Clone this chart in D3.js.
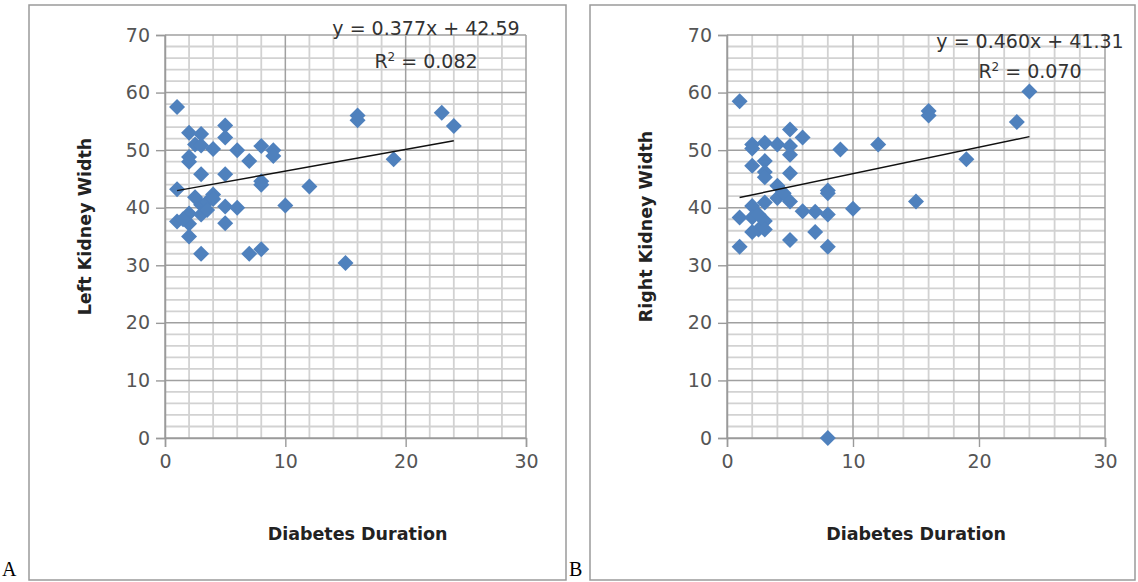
<!DOCTYPE html>
<html>
<head>
<meta charset="utf-8">
<script src="https://cdn.jsdelivr.net/npm/d3@7"></script>
<style>
  html, body { margin: 0; padding: 0; background: #fff; }
  svg { display: block; }
</style>
</head>
<body>
<svg id="chart" width="1138" height="582"></svg>
<script>
// Diabetes duration (years) vs. left kidney width
const durationLeft = [1, 1, 1, 2, 2, 2, 2, 2, 2, 2.5, 3, 3, 3, 3, 3, 3, 3.5, 3.5, 4, 4, 4, 5, 5, 5, 5, 5, 6, 6, 7, 7, 8, 8, 8, 8, 9, 9, 10, 12, 15, 16, 16, 19, 23, 24, 1.5, 2.5];
const widthLeft    = [57.5, 43.2, 37.6, 53, 48.8, 48, 39, 37.2, 35, 51, 52.8, 50.8, 45.8, 40.5, 38.8, 32, 41, 39.6, 50.2, 42.3, 41.5, 54.3, 52.2, 45.8, 40.2, 37.3, 50, 40, 48.1, 32, 50.7, 44.6, 44, 32.8, 50, 49, 40.4, 43.7, 30.4, 56, 55.2, 48.4, 56.5, 54.2, 38, 41.8];

// Diabetes duration (years) vs. right kidney width
const durationRight = [1, 1, 1, 2, 2, 2, 2, 2, 2, 2.5, 3, 3, 3, 3, 3, 3, 3, 4, 4, 4, 4.5, 5, 5, 5, 5, 5, 5, 6, 6, 7, 7, 8, 8, 8, 8, 8, 9, 10, 12, 15, 16, 16, 19, 23, 24, 2.5];
const widthRight    = [58.5, 38.3, 33.2, 51, 50.3, 47.3, 40.3, 38.3, 35.8, 36.2, 51.3, 48.1, 46.2, 45.3, 40.9, 37.7, 36.2, 51, 43.8, 41.7, 42.5, 53.6, 50.7, 49.2, 46, 41.1, 34.4, 52.2, 39.4, 39.3, 35.8, 43, 42.5, 38.8, 33.2, 0, 50.1, 39.8, 51, 41.1, 56.8, 56, 48.4, 54.9, 60.2, 38.8];

// Linear trend lines as printed on each chart: [slope, intercept]
const trendLeft  = [0.377, 42.59];
const trendRight = [0.460, 41.31];
const equationLeft  = ["y = 0.377x + 42.59", "0.082"];
const equationRight = ["y = 0.460x + 41.31", "0.070"];

const xTicks = [0, 10, 20, 30];
const yTicks = [0, 10, 20, 30, 40, 50, 60, 70];
const xMinor = [2, 4, 6, 8, 12, 14, 16, 18, 22, 24, 26, 28];
const yMinor = [2, 4, 6, 8, 12, 14, 16, 18, 22, 24, 26, 28, 32, 34, 36, 38, 42, 44, 46, 48, 52, 54, 56, 58, 62, 64, 66, 68];

const panelTitles = ["Left Kidney Width", "Right Kidney Width"];
const xTitle = "Diabetes Duration";
const panelLetters = ["A", "B"];

const svg = d3.select("#chart");
const MARKER = "#4F81BD";

function drawPanel(opt) {
  const g = svg.append("g");

  // panel frame
  g.append("rect")
    .attr("x", opt.frame[0]).attr("y", opt.frame[1])
    .attr("width", opt.frame[2]).attr("height", opt.frame[3])
    .attr("fill", "none").attr("stroke", "#9a9a9a").attr("stroke-width", 1.5);

  const x = d3.scaleLinear().domain([0, 30]).range([opt.left, opt.right]);
  const y = d3.scaleLinear().domain([0, 70]).range([opt.bottom, opt.top]);

  // minor grid
  g.append("g").selectAll("line").data(xMinor).join("line")
    .attr("x1", d => x(d)).attr("x2", d => x(d))
    .attr("y1", y(0)).attr("y2", y(70))
    .attr("stroke", "#d2d2d2").attr("stroke-width", 1.8);
  g.append("g").selectAll("line").data(yMinor).join("line")
    .attr("x1", x(0)).attr("x2", x(30))
    .attr("y1", d => y(d)).attr("y2", d => y(d))
    .attr("stroke", "#d2d2d2").attr("stroke-width", 1.8);

  // major grid
  g.append("g").selectAll("line").data(xTicks).join("line")
    .attr("x1", d => x(d)).attr("x2", d => x(d))
    .attr("y1", y(0)).attr("y2", y(70))
    .attr("stroke", "#a0a0a0").attr("stroke-width", 1.5);
  g.append("g").selectAll("line").data(yTicks).join("line")
    .attr("x1", x(0)).attr("x2", x(30))
    .attr("y1", d => y(d)).attr("y2", d => y(d))
    .attr("stroke", "#a0a0a0").attr("stroke-width", 1.5);

  // axes
  const yAxis = d3.axisLeft(y).tickValues(yTicks).tickSize(9).tickPadding(6);
  const xAxis = d3.axisBottom(x).tickValues(xTicks).tickSize(9).tickPadding(8);
  const ya = g.append("g").attr("transform", `translate(${x(0)},0)`).call(yAxis);
  const xa = g.append("g").attr("transform", `translate(0,${y(0)})`).call(xAxis);
  [ya, xa].forEach(a => {
    a.select(".domain").attr("stroke", "#9a9a9a").attr("stroke-width", 1.5);
    a.selectAll(".tick line").attr("stroke", "#9a9a9a").attr("stroke-width", 1.4);
    a.selectAll(".tick text")
      .attr("fill", "#555").style("font-family", "'DejaVu Sans'").style("font-size", "19px");
  });

  // axis titles
  g.append("text")
    .attr("transform", `translate(${opt.yTitleX},${(y(0) + y(70)) / 2 - 10}) rotate(-90)`)
    .attr("text-anchor", "middle")
    .style("font-family", "'DejaVu Sans'").style("font-weight", "bold").style("font-size", "17.5px")
    .attr("fill", "#222").text(opt.yTitle);
  g.append("text")
    .attr("x", (x(0) + x(30)) / 2 + opt.xTitleShift).attr("y", 540)
    .attr("text-anchor", "middle")
    .style("font-family", "'DejaVu Sans'").style("font-weight", "bold").style("font-size", "17.5px")
    .attr("fill", "#222").text(xTitle);

  // points
  const pts = opt.xs.map((v, i) => [v, opt.ys[i]]);
  g.append("g").selectAll("path").data(pts).join("path")
    .attr("d", d3.symbol().type(d3.symbolSquare).size(128))
    .attr("transform", d => `translate(${x(d[0])},${y(d[1])}) rotate(45)`)
    .attr("fill", MARKER);

  // trend line across the observed duration range
  const [lo, hi] = d3.extent(opt.xs);
  const line = d3.line().x(d => x(d)).y(d => y(opt.trend[0] * d + opt.trend[1]));
  g.append("path").datum([lo, hi]).attr("d", line)
    .attr("fill", "none").attr("stroke", "#111").attr("stroke-width", 1.5);

  // equation and R²
  const eq = g.append("g")
    .style("font-family", "'DejaVu Sans'").style("font-size", "19px").attr("fill", "#333");
  eq.append("text").attr("x", opt.eqX).attr("y", opt.eqY)
    .attr("text-anchor", "middle").text(opt.eq[0]);
  const r = eq.append("text").attr("x", opt.eqX).attr("y", opt.eqY + opt.r2Gap)
    .attr("text-anchor", "middle");
  r.append("tspan").text("R");
  r.append("tspan").attr("dy", -7).style("font-size", "12px").text("2");
  r.append("tspan").attr("dy", 7).text(" = " + opt.eq[1]);

  // panel letter
  svg.append("text").attr("x", opt.letterX).attr("y", 576)
    .style("font-family", "'Liberation Serif'").style("font-size", "20px")
    .attr("fill", "#000").text(opt.letter);
}

drawPanel({
  frame: [29, 5, 537, 575],
  left: 165, right: 526, top: 35, bottom: 438,
  xs: durationLeft, ys: widthLeft, trend: trendLeft, eq: equationLeft,
  eqX: 426, eqY: 35, r2Gap: 33,
  yTitle: panelTitles[0], yTitleX: 91, xTitleShift: 12,
  letter: panelLetters[0], letterX: 2
});
drawPanel({
  frame: [590, 5, 545, 575],
  left: 727, right: 1105, top: 35, bottom: 438,
  xs: durationRight, ys: widthRight, trend: trendRight, eq: equationRight,
  eqX: 1030, eqY: 48, r2Gap: 30,
  yTitle: panelTitles[1], yTitleX: 652, xTitleShift: 0,
  letter: panelLetters[1], letterX: 569
});
</script>
</body>
</html>
